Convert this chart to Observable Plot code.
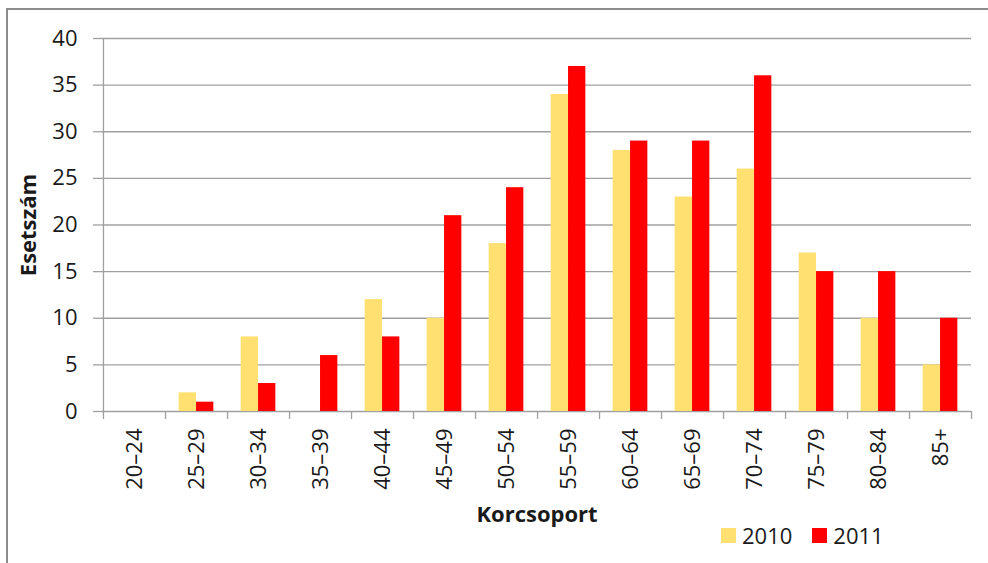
<!DOCTYPE html>
<html>
<head>
<meta charset="utf-8">
<script src="https://cdn.jsdelivr.net/npm/d3@7"></script>
<script src="https://cdn.jsdelivr.net/npm/@observablehq/plot@0.6"></script>
<style>
  html, body { margin: 0; padding: 0; background: #fff; }
  #wrap { position: relative; width: 988px; height: 563px; overflow: hidden; font-family: "Open Sans", sans-serif; }
  #border { position: absolute; left: 6px; top: 8px; width: 1200px; height: 800px; border-top: 2px solid #8c8c8c; border-left: 2px solid #8c8c8c; pointer-events: none; }
  #legend { position: absolute; left: 721px; top: 520px; display: flex; align-items: center; font-size: 22px; color: #1a1a1a; line-height: 30px; }
  #legend .item { display: flex; align-items: center; margin-right: 20px; }
  #legend .sw { width: 15px; height: 15px; margin-right: 6px; }
</style>
</head>
<body>
<div id="wrap"><div id="border"></div><div id="legend"></div></div>
<script>
const categories = ["20–24","25–29","30–34","35–39","40–44","45–49","50–54","55–59","60–64","65–69","70–74","75–79","80–84","85+"];
const values2010 = [0,2,8,0,12,10,18,34,28,23,26,17,10,5];
const values2011 = [0,1,3,6,8,21,24,37,29,29,36,15,15,10];
const seriesNames = ["2010","2011"];
const seriesColors = ["#ffe070","#ff0000"];
const yTicks = [0,5,10,15,20,25,30,35,40];

const W = 988, H = 563;
const mL = 102, mR = 17, mT = 38, mB = 152;
const bw = (W - mL - mR) / categories.length;
const barW = bw * 0.28;
const outer = (bw - 2 * barW) / 2;

const d2010 = categories.map((c, i) => ({cat: c, value: values2010[i], year: seriesNames[0]}));
const d2011 = categories.map((c, i) => ({cat: c, value: values2011[i], year: seriesNames[1]}));

const font = "Open Sans, sans-serif";
const plot = Plot.plot({
  width: W, height: H,
  marginLeft: mL, marginRight: mR, marginTop: mT, marginBottom: mB,
  style: {fontFamily: font, fontSize: "22px", color: "#1a1a1a", background: "transparent", overflow: "visible"},
  x: {type: "band", domain: categories, padding: 0, axis: null},
  y: {domain: [0, 40], axis: null},
  color: {domain: seriesNames, range: seriesColors},
  marks: [
    Plot.ruleY(yTicks, {stroke: "#a0a0a0", strokeWidth: 1.3}),
    Plot.ruleX([categories[0]], {dx: -bw / 2, stroke: "#a0a0a0", strokeWidth: 1.3}),
    Plot.ruleX([categories[0]], {dx: -bw / 2, y1: 0, y2: 0, insetBottom: -8, stroke: "#a0a0a0", strokeWidth: 1.3}),
    Plot.ruleX(categories, {dx: bw / 2, y1: 0, y2: 0, insetBottom: -8, stroke: "#a0a0a0", strokeWidth: 1.3}),
    Plot.barY(d2010, {x: "cat", y: "value", fill: "year", insetLeft: outer, insetRight: outer + barW}),
    Plot.barY(d2011, {x: "cat", y: "value", fill: "year", insetLeft: outer + barW, insetRight: outer}),
    Plot.axisY({ticks: yTicks, tickSize: 9, tickPadding: 16, stroke: "#a0a0a0", strokeWidth: 1.3, label: null, fontSize: 22}),
    Plot.axisX({tickSize: 0, tickPadding: 17, tickRotate: -90, label: null, fontSize: 22}),
    Plot.text(["Esetszám"], {frameAnchor: "left", textAnchor: "middle", rotate: -90, dx: -74, fontWeight: "bold", fontSize: 22}),
    Plot.text(["Korcsoport"], {frameAnchor: "bottom", dy: 110, fontWeight: "bold", fontSize: 22})
  ]
});
const wrap = document.getElementById("wrap");
wrap.insertBefore(plot, wrap.firstChild);
const leg = document.getElementById("legend");
seriesNames.forEach((name, i) => {
  const item = document.createElement("div");
  item.className = "item";
  const sw = document.createElement("div");
  sw.className = "sw";
  sw.style.background = seriesColors[i];
  const t = document.createElement("span");
  t.textContent = name;
  item.appendChild(sw);
  item.appendChild(t);
  leg.appendChild(item);
});
</script>
</body>
</html>
